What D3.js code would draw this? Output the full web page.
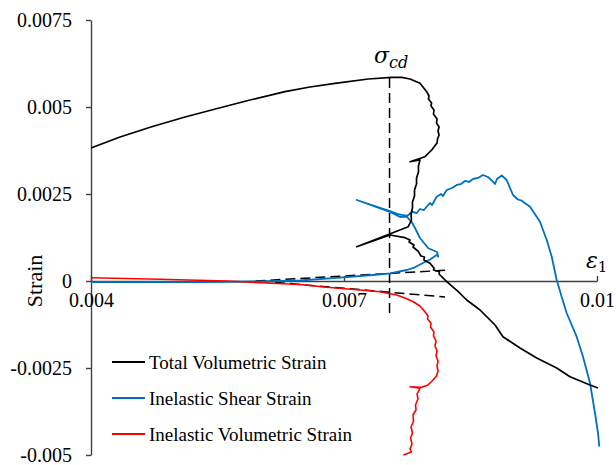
<!DOCTYPE html>
<html>
<head>
<meta charset="utf-8">
<script src="https://cdn.jsdelivr.net/npm/d3@7"></script>
<style>
  html, body { margin: 0; padding: 0; background: #fff; }
  svg { display: block; }
</style>
</head>
<body>
<svg id="chart" width="616" height="465" font-family="Liberation Serif"></svg>
<script>
// Axial strain (x) against strain (y) for the three measured quantities.
const xTicks = [0.004, 0.007, 0.01];
const xTickLabels = ["0.004", "0.007", "0.01"];
const yTicks = [0.0075, 0.005, 0.0025, 0, -0.0025, -0.005];
const yTickLabels = ["0.0075", "0.005", "0.0025", "0", "-0.0025", "-0.005"];

const seriesNames = ["Total Volumetric Strain", "Inelastic Shear Strain", "Inelastic Volumetric Strain"];
const seriesColors = ["#000000", "#0070C0", "#FF0000"];

// Total volumetric strain: [axial strain, strain]
const totalVolumetric = [
  [0.004000, 0.003822], [0.004344, 0.004138], [0.004720, 0.004434], [0.005115, 0.004713],
  [0.005509, 0.004963], [0.005885, 0.005201], [0.006300, 0.005440], [0.006597, 0.005575],
  [0.006893, 0.005681], [0.007288, 0.005805], [0.007566, 0.005853], [0.007684, 0.005853],
  [0.007783, 0.005805], [0.007901, 0.005681], [0.007981, 0.005440], [0.008008, 0.005316],
  [0.008002, 0.005230], [0.008038, 0.005115], [0.008032, 0.005029], [0.008067, 0.004914],
  [0.008061, 0.004799], [0.008103, 0.004655], [0.008097, 0.004540], [0.008127, 0.004425],
  [0.008115, 0.004310], [0.008127, 0.004195], [0.008109, 0.004080], [0.008103, 0.003966],
  [0.008067, 0.003851], [0.008040, 0.003764], [0.007960, 0.003572], [0.007783, 0.003428],
  [0.007901, 0.003477], [0.007883, 0.003305], [0.007883, 0.003132], [0.007860, 0.002960],
  [0.007860, 0.002787], [0.007836, 0.002615], [0.007836, 0.002443], [0.007812, 0.002270],
  [0.007812, 0.002098], [0.007795, 0.001925], [0.007800, 0.001753], [0.007762, 0.001560],
  [0.007151, 0.000986], [0.007545, 0.001322], [0.007723, 0.001244], [0.007783, 0.001178],
  [0.007771, 0.001121], [0.007830, 0.001034], [0.007818, 0.000977], [0.007877, 0.000862],
  [0.007913, 0.000718], [0.007954, 0.000690], [0.007948, 0.000603], [0.008020, 0.000509],
  [0.008067, 0.000374], [0.008062, 0.000316], [0.008132, 0.000267], [0.008127, 0.000201],
  [0.008218, -0.000020], [0.008355, -0.000307], [0.008455, -0.000546], [0.008613, -0.000833],
  [0.008791, -0.001264], [0.008885, -0.001601], [0.009087, -0.001925], [0.009285, -0.002213],
  [0.009522, -0.002500], [0.009680, -0.002750], [0.009917, -0.002989], [0.010012, -0.003075]
];

// Inelastic shear strain
const inelasticShear = [
  [0.004000, -0.000030], [0.005292, -0.000030], [0.006004, -0.000014], [0.006478, 0.000014],
  [0.006953, 0.000095], [0.007344, 0.000172], [0.007546, 0.000221], [0.007744, 0.000316],
  [0.007822, 0.000374], [0.007937, 0.000517], [0.008020, 0.000618], [0.008099, 0.000747],
  [0.008118, 0.000698], [0.008103, 0.000833], [0.008000, 0.000940], [0.007901, 0.001236],
  [0.007842, 0.001523], [0.007803, 0.001695], [0.007744, 0.001848], [0.007664, 0.001839],
  [0.007545, 0.001983], [0.007151, 0.002328], [0.007545, 0.002011], [0.007640, 0.001925],
  [0.007747, 0.001868], [0.007806, 0.001983], [0.007862, 0.001954], [0.007901, 0.002069],
  [0.007948, 0.002040], [0.007981, 0.002135], [0.008020, 0.002241], [0.008044, 0.002184],
  [0.008099, 0.002422], [0.008150, 0.002500], [0.008174, 0.002443], [0.008218, 0.002615],
  [0.008281, 0.002672], [0.008336, 0.002759], [0.008387, 0.002787], [0.008435, 0.002874],
  [0.008482, 0.002845], [0.008530, 0.002931], [0.008589, 0.002960], [0.008648, 0.003046],
  [0.008707, 0.002989], [0.008767, 0.002853], [0.008791, 0.002787], [0.008814, 0.002931],
  [0.008870, 0.003032], [0.008929, 0.002902], [0.009004, 0.002471], [0.009063, 0.002342],
  [0.009107, 0.002307], [0.009206, 0.002135], [0.009324, 0.001704], [0.009404, 0.001178],
  [0.009463, 0.000698], [0.009522, 0.000029], [0.009581, -0.000451], [0.009640, -0.000920],
  [0.009759, -0.001600], [0.009834, -0.002175], [0.009917, -0.002931], [0.009976, -0.003793],
  [0.010012, -0.004368], [0.010027, -0.004761]
];

// Inelastic volumetric strain
const inelasticVolumetric = [
  [0.004000, 0.000095], [0.004818, 0.000049], [0.005609, 0.000000], [0.006004, -0.000049],
  [0.006478, -0.000100], [0.006795, -0.000181], [0.007190, -0.000259], [0.007427, -0.000307],
  [0.007625, -0.000402], [0.007723, -0.000489], [0.007822, -0.000595], [0.007901, -0.000718],
  [0.007960, -0.000882], [0.007996, -0.001006], [0.007990, -0.001092], [0.008032, -0.001207],
  [0.008026, -0.001322], [0.008067, -0.001466], [0.008061, -0.001580], [0.008091, -0.001724],
  [0.008079, -0.001868], [0.008103, -0.002011], [0.008091, -0.002155], [0.008115, -0.002299],
  [0.008103, -0.002443], [0.008115, -0.002586], [0.008097, -0.002730], [0.008044, -0.002874],
  [0.007996, -0.002989], [0.007921, -0.003055], [0.007783, -0.003037], [0.007901, -0.003083],
  [0.007866, -0.003247], [0.007877, -0.003391], [0.007848, -0.003563], [0.007854, -0.003707],
  [0.007818, -0.003851], [0.007824, -0.004023], [0.007795, -0.004195], [0.007812, -0.004368],
  [0.007789, -0.004511], [0.007806, -0.004684], [0.007783, -0.004828], [0.007800, -0.004914],
  [0.007704, -0.005000]
];

// Dashed reference lines: tangents at the onset and the crack-damage marker
const tangentUpper = [[0.005950, 0.000000], [0.008257, 0.000316]];
const tangentLower = [[0.006004, 0.000000], [0.008198, -0.000460]];
const sigmaCd = [[0.007540, 0.005830], [0.007540, -0.001030]];

const svg = d3.select("#chart");
const x = d3.scaleLinear().domain([0.004, 0.01]).range([91, 597]);
const y = d3.scaleLinear().domain([-0.005, 0.0075]).range([455, 20]);

const axisColor = "#404040";
const serif = "Liberation Serif";

// Y axis
const yAxis = svg.append("g")
  .attr("transform", `translate(${x(0.004)},0)`)
  .call(d3.axisLeft(y).tickValues(yTicks)
    .tickFormat((d, i) => yTickLabels[i]).tickSizeInner(5).tickSizeOuter(0).tickPadding(14));
yAxis.attr("font-family", serif).attr("font-size", 20);
yAxis.select(".domain").attr("stroke", axisColor).attr("stroke-width", 1.4);
yAxis.selectAll(".tick line").attr("stroke", axisColor).attr("stroke-width", 1.4);
yAxis.selectAll("text").attr("fill", "#000");

// X axis, crossing at zero strain, ticks pointing up
const xAxis = svg.append("g")
  .attr("transform", `translate(0,${y(0)})`)
  .call(d3.axisBottom(x).tickValues(xTicks)
    .tickFormat((d, i) => xTickLabels[i]).tickSizeInner(-5).tickSizeOuter(0).tickPadding(12));
xAxis.attr("font-family", serif).attr("font-size", 20);
xAxis.select(".domain").attr("stroke", axisColor).attr("stroke-width", 1.4);
xAxis.selectAll(".tick line").attr("stroke", axisColor).attr("stroke-width", 1.4);
xAxis.selectAll("text").attr("fill", "#000");

// Y axis title
svg.append("text")
  .attr("transform", `translate(42,${y(0)}) rotate(-90)`)
  .attr("text-anchor", "middle")
  .attr("font-family", serif)
  .attr("font-size", 22)
  .text("Strain");

const line = d3.line().x(d => x(d[0])).y(d => y(d[1]));

// Dashed guides
[tangentUpper, tangentLower, sigmaCd].forEach(pts => {
  svg.append("path").datum(pts).attr("d", line)
    .attr("fill", "none").attr("stroke", "#000")
    .attr("stroke-width", 1.5).attr("stroke-dasharray", "10,5");
});

// Data series
const seriesData = [totalVolumetric, inelasticShear, inelasticVolumetric];
const seriesWidths = [1.7, 1.8, 1.6];
[1, 2, 0].forEach(i => {
  svg.append("path").datum(seriesData[i]).attr("d", line)
    .attr("fill", "none").attr("stroke", seriesColors[i])
    .attr("stroke-width", seriesWidths[i]).attr("stroke-linejoin", "round");
});

// Math labels
const sig = svg.append("text")
  .attr("x", 374).attr("y", 63)
  .attr("font-family", "DejaVu Serif").attr("font-style", "italic");
sig.append("tspan").attr("font-size", 22).text("σ");
sig.append("tspan").attr("font-size", 16).attr("dy", 5).text("cd");

const eps = svg.append("text")
  .attr("x", 586).attr("y", 268)
  .attr("font-family", "DejaVu Serif");
eps.append("tspan").attr("font-size", 22).attr("font-style", "italic").text("ε");
eps.append("tspan").attr("font-size", 15).attr("dy", 4).text("1");

// Legend
const legend = svg.append("g").attr("font-family", serif).attr("font-size", 19);
const legendY = [362, 398, 434];
seriesNames.forEach((name, i) => {
  legend.append("line")
    .attr("x1", 112).attr("x2", 145).attr("y1", legendY[i]).attr("y2", legendY[i])
    .attr("stroke", seriesColors[i]).attr("stroke-width", 2);
  legend.append("text")
    .attr("x", 149).attr("y", legendY[i]).attr("dy", "0.35em")
    .text(name);
});
</script>
</body>
</html>
